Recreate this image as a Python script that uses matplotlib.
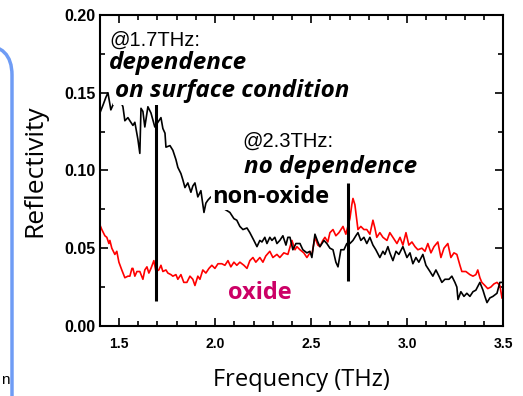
import matplotlib.pyplot as plt
from matplotlib.patches import FancyBboxPatch
from matplotlib.ticker import MultipleLocator

# non-oxide sample (black)
freq_nonoxide = [1.400, 1.416, 1.431, 1.442, 1.457, 1.478, 1.499, 1.520, 1.530, 1.546,
                 1.556, 1.572, 1.582, 1.598, 1.608, 1.614, 1.624, 1.634, 1.650, 1.666,
                 1.686, 1.702, 1.718, 1.728, 1.739, 1.744, 1.765, 1.780, 1.796, 1.806,
                 1.822, 1.832, 1.843, 1.858, 1.874, 1.884, 1.895, 1.910, 1.926, 1.942,
                 1.952, 1.963, 1.978, 1.999, 2.025, 2.051, 2.077, 2.098, 2.113, 2.129,
                 2.145, 2.166, 2.181, 2.202, 2.218, 2.233, 2.244, 2.259, 2.270, 2.285,
                 2.296, 2.311, 2.322, 2.337, 2.353, 2.369, 2.379, 2.390, 2.405, 2.421,
                 2.442, 2.457, 2.478, 2.494, 2.504, 2.520, 2.535, 2.546, 2.567, 2.582,
                 2.598, 2.614, 2.629, 2.640, 2.655, 2.671, 2.686, 2.702, 2.718, 2.733,
                 2.744, 2.759, 2.775, 2.790, 2.806, 2.822, 2.837, 2.858, 2.874, 2.884,
                 2.900, 2.910, 2.926, 2.942, 2.957, 2.978, 2.999, 3.015, 3.030, 3.046,
                 3.061, 3.082, 3.098, 3.119, 3.134, 3.150, 3.166, 3.181, 3.197, 3.218,
                 3.233, 3.249, 3.259, 3.265, 3.280, 3.296, 3.311, 3.327, 3.343, 3.358,
                 3.379, 3.395, 3.405, 3.416, 3.431, 3.447, 3.468, 3.483, 3.494]
refl_nonoxide = [0.137, 0.142, 0.147, 0.150, 0.139, 0.145, 0.147, 0.141, 0.132, 0.134,
                 0.132, 0.129, 0.131, 0.120, 0.111, 0.140, 0.138, 0.128, 0.141, 0.137,
                 0.128, 0.131, 0.134, 0.127, 0.124, 0.115, 0.116, 0.113, 0.107, 0.102,
                 0.098, 0.094, 0.089, 0.092, 0.086, 0.090, 0.092, 0.083, 0.087, 0.073,
                 0.079, 0.081, 0.083, 0.079, 0.076, 0.075, 0.073, 0.069, 0.068, 0.064,
                 0.062, 0.063, 0.060, 0.055, 0.051, 0.055, 0.054, 0.057, 0.053, 0.057,
                 0.055, 0.057, 0.053, 0.055, 0.058, 0.052, 0.057, 0.057, 0.049, 0.053,
                 0.053, 0.049, 0.047, 0.048, 0.044, 0.059, 0.054, 0.051, 0.055, 0.053,
                 0.050, 0.049, 0.041, 0.038, 0.049, 0.049, 0.053, 0.053, 0.055, 0.058,
                 0.060, 0.055, 0.057, 0.053, 0.057, 0.052, 0.049, 0.044, 0.048, 0.046,
                 0.051, 0.047, 0.042, 0.048, 0.046, 0.051, 0.044, 0.047, 0.040, 0.044,
                 0.041, 0.046, 0.039, 0.035, 0.032, 0.036, 0.032, 0.028, 0.030, 0.030,
                 0.032, 0.028, 0.025, 0.017, 0.022, 0.019, 0.021, 0.019, 0.022, 0.023,
                 0.028, 0.023, 0.019, 0.015, 0.018, 0.019, 0.021, 0.028, 0.028]

# oxide sample (red)
freq_oxide = [1.400, 1.410, 1.426, 1.436, 1.447, 1.452, 1.462, 1.478, 1.488, 1.499,
              1.514, 1.530, 1.546, 1.556, 1.567, 1.572, 1.582, 1.593, 1.608, 1.624,
              1.634, 1.645, 1.655, 1.666, 1.681, 1.692, 1.707, 1.718, 1.728, 1.744,
              1.754, 1.770, 1.780, 1.796, 1.806, 1.822, 1.837, 1.853, 1.869, 1.884,
              1.895, 1.910, 1.921, 1.936, 1.952, 1.968, 1.983, 1.999, 2.015, 2.035,
              2.051, 2.067, 2.082, 2.098, 2.113, 2.129, 2.150, 2.166, 2.181, 2.197,
              2.212, 2.233, 2.249, 2.264, 2.285, 2.301, 2.322, 2.337, 2.358, 2.379,
              2.400, 2.416, 2.426, 2.442, 2.462, 2.478, 2.494, 2.504, 2.520, 2.535,
              2.546, 2.561, 2.572, 2.587, 2.598, 2.614, 2.629, 2.645, 2.666, 2.681,
              2.702, 2.712, 2.718, 2.728, 2.744, 2.759, 2.775, 2.790, 2.806, 2.822,
              2.832, 2.842, 2.858, 2.874, 2.895, 2.910, 2.926, 2.947, 2.963, 2.978,
              2.994, 3.009, 3.025, 3.041, 3.056, 3.077, 3.093, 3.108, 3.124, 3.140,
              3.160, 3.176, 3.192, 3.212, 3.228, 3.244, 3.259, 3.275, 3.285, 3.306,
              3.327, 3.343, 3.358, 3.368, 3.379, 3.389, 3.405, 3.420, 3.436, 3.452,
              3.468, 3.483, 3.494]
refl_oxide = [0.065, 0.062, 0.058, 0.057, 0.053, 0.055, 0.050, 0.046, 0.048, 0.041,
              0.036, 0.031, 0.032, 0.032, 0.037, 0.037, 0.032, 0.035, 0.035, 0.030,
              0.036, 0.038, 0.034, 0.037, 0.042, 0.035, 0.036, 0.039, 0.035, 0.036,
              0.034, 0.033, 0.032, 0.033, 0.030, 0.033, 0.028, 0.028, 0.032, 0.030,
              0.026, 0.032, 0.030, 0.036, 0.034, 0.037, 0.039, 0.037, 0.040, 0.040,
              0.039, 0.042, 0.038, 0.041, 0.039, 0.041, 0.039, 0.037, 0.042, 0.044,
              0.041, 0.044, 0.041, 0.045, 0.048, 0.044, 0.046, 0.044, 0.047, 0.046,
              0.055, 0.049, 0.051, 0.049, 0.047, 0.044, 0.047, 0.046, 0.057, 0.052,
              0.051, 0.055, 0.057, 0.054, 0.060, 0.062, 0.058, 0.060, 0.064, 0.059,
              0.069, 0.078, 0.082, 0.078, 0.062, 0.064, 0.062, 0.062, 0.059, 0.068,
              0.063, 0.057, 0.060, 0.057, 0.055, 0.060, 0.057, 0.053, 0.057, 0.052,
              0.060, 0.052, 0.054, 0.051, 0.049, 0.050, 0.048, 0.053, 0.047, 0.051,
              0.054, 0.044, 0.050, 0.053, 0.044, 0.047, 0.046, 0.039, 0.035, 0.035,
              0.033, 0.032, 0.033, 0.036, 0.031, 0.028, 0.026, 0.024, 0.025, 0.027,
              0.028, 0.026, 0.018]

# vertical marker bars
marker_freqs = [1.69, 2.69]
marker_lo = [0.016, 0.029]
marker_hi = [0.143, 0.092]

fig = plt.figure(figsize=(5.23, 3.96), dpi=100)
ax = fig.add_axes([0.191, 0.177, 0.771, 0.785])

ax.plot(freq_oxide, refl_oxide, color='#ff0000', lw=1.2, zorder=2)
ax.plot(freq_nonoxide, refl_nonoxide, color='black', lw=1.2, zorder=3)
ax.vlines(marker_freqs, marker_lo, marker_hi, color='black', lw=2.2, zorder=4)

ax.set_xlim(1.4, 3.5)
ax.set_ylim(0.0, 0.2)
ax.xaxis.set_minor_locator(MultipleLocator(0.1))
ax.yaxis.set_minor_locator(MultipleLocator(0.025))
ax.set_xticks([1.5, 2.0, 2.5, 3.0, 3.5])
ax.set_xticklabels(['1.5', '2.0', '2.5', '3.0', '3.5'])
ax.set_yticks([0.0, 0.05, 0.10, 0.15, 0.20])
ax.set_yticklabels(['0.00', '0.05', '0.10', '0.15', '0.20'])
ax.tick_params(which='both', direction='in', top=True, right=True, width=1.2)
ax.tick_params(which='major', length=6)
ax.tick_params(which='minor', length=3.5)
ax.tick_params(axis='x', which='major', pad=8)
ax.tick_params(axis='y', which='major', pad=3)
for lab in ax.get_xticklabels():
    lab.set_fontfamily('Liberation Sans')
    lab.set_fontweight('bold')
    lab.set_fontsize(10)
for lab in ax.get_yticklabels():
    lab.set_fontfamily('Liberation Sans')
    lab.set_fontweight('bold')
    lab.set_fontsize(11.5)
for sp in ax.spines.values():
    sp.set_linewidth(1.5)

ax.set_xlabel('Frequency (THz)', fontfamily='Open Sans', fontsize=17, labelpad=12)
ax.set_ylabel('Reflectivity', fontfamily='Open Sans', fontsize=19, labelpad=12)

white = dict(facecolor='white', edgecolor='none', pad=1)
ax.text(1.45, 0.184, '@1.7THz:', fontfamily='Liberation Sans', fontsize=14.5, va='center')
ax.text(1.447, 0.169, 'dependence', fontfamily='Open Sans', fontsize=17.5,
        fontweight='bold', fontstyle='italic', va='center', zorder=5)
ax.text(1.477, 0.151, 'on surface condition', fontfamily='Open Sans', fontsize=17.5,
        fontweight='bold', fontstyle='italic', va='center', bbox=white, zorder=5)
ax.text(2.14, 0.119, '@2.3THz:', fontfamily='Liberation Sans', fontsize=14.5, va='center')
ax.text(2.148, 0.102, 'no dependence', fontfamily='Open Sans', fontsize=17.5,
        fontweight='bold', fontstyle='italic', va='center', zorder=5)
ax.text(1.986, 0.083, 'non-oxide', fontfamily='Open Sans', fontsize=17,
        fontweight='bold', va='center', bbox=white, zorder=5)
ax.text(2.065, 0.021, 'oxide', fontfamily='Open Sans', fontsize=17,
        fontweight='bold', color='#cc0066', va='center', zorder=5)

# rounded blue frame peeking in from the left edge
frame = FancyBboxPatch((-2.0, -1.0), 2.12, 4.51, boxstyle='round,pad=0,rounding_size=0.3',
                       transform=fig.dpi_scale_trans, facecolor='none',
                       edgecolor='#6f9cf5', lw=2.5, clip_on=False)
fig.add_artist(frame)
fig.text(0.018, 1 - 380 / 396, 'n', fontfamily='Liberation Sans', fontsize=11,
         ha='right', va='center')

fig.savefig('out.png', dpi=100)
